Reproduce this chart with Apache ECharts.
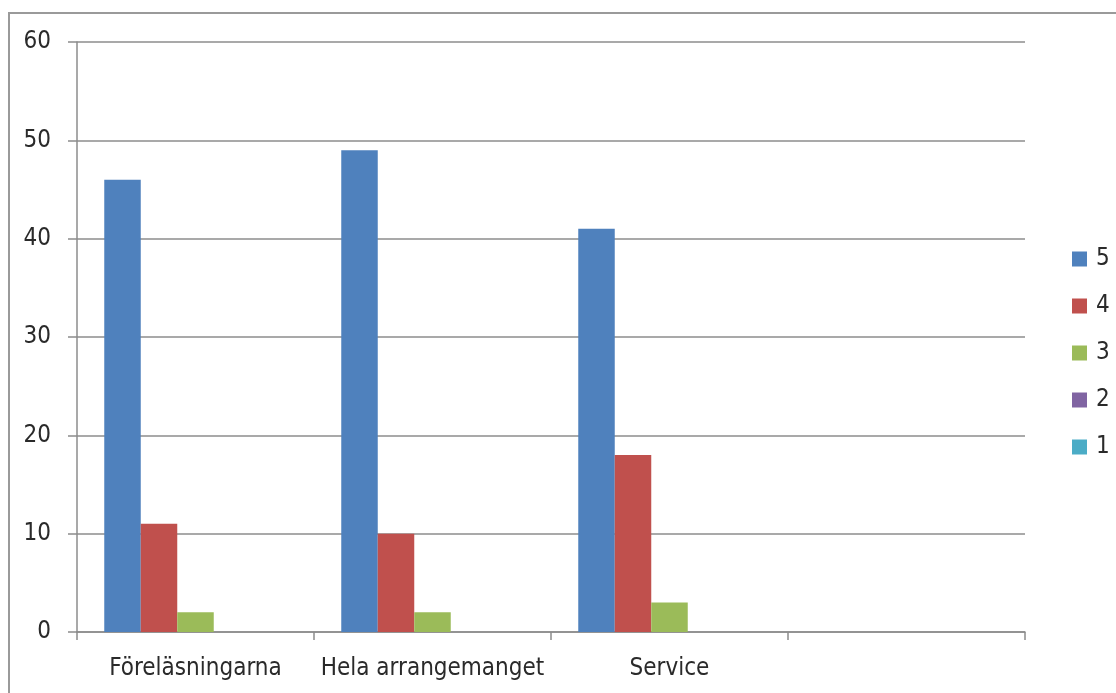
<!DOCTYPE html>
<html>
<head>
<meta charset="utf-8">
<script src="https://cdn.jsdelivr.net/npm/echarts@6/dist/echarts.min.js"></script>
<style>
  html, body { margin: 0; padding: 0; background: #fff; }
  #chart { width: 1116px; height: 693px; }
</style>
</head>
<body>
<div id="chart"></div>
<script>
const categories = ['Föreläsningarna', 'Hela arrangemanget', 'Service', '']
const seriesNames = ['5', '4', '3', '2', '1']
const values5 = [46, 49, 41, null]
const values4 = [11, 10, 18, null]
const values3 = [2, 2, 3, null]
const values2 = [0, 0, 0, null]
const values1 = [0, 0, 0, null]
const yTicks = [0, 10, 20, 30, 40, 50, 60]

const colors = ['#4f81bd', '#c0504d', '#9bbb59', '#8064a2', '#4bacc6']
const allValues = [values5, values4, values3, values2, values1]
const font = '"Liberation Sans Narrow", "DejaVu Sans Condensed", sans-serif'

const chart = echarts.init(document.getElementById('chart'))
chart.setOption({
  animation: false,
  color: colors,
  graphic: [{
    type: 'rect',
    shape: { x: 9, y: 13, width: 1300, height: 900 },
    style: { fill: 'none', stroke: '#9a9a9a', lineWidth: 2 },
    silent: true
  }],
  grid: { left: 77, right: 91, top: 42, bottom: 61 },
  legend: {
    orient: 'vertical',
    left: 1067,
    top: 242,
    itemWidth: 15,
    itemHeight: 15,
    itemGap: 23,
    icon: 'rect',
    textStyle: { fontFamily: font, fontSize: 24, color: '#2a2a2a', padding: [0, 0, 0, 4] },
    data: seriesNames
  },
  xAxis: {
    type: 'category',
    data: categories,
    axisLine: { lineStyle: { color: '#8c8c8c', width: 1.5 } },
    axisTick: { show: true, length: 8, lineStyle: { color: '#8c8c8c', width: 1.5 } },
    axisLabel: { fontFamily: font, fontSize: 24, color: '#2a2a2a', margin: 25, interval: 0 }
  },
  yAxis: {
    type: 'value',
    min: yTicks[0],
    max: yTicks[yTicks.length - 1],
    interval: 10,
    axisLine: { show: true, lineStyle: { color: '#8c8c8c', width: 1.5 } },
    axisTick: { show: true, length: 9, lineStyle: { color: '#8c8c8c', width: 1.5 } },
    axisLabel: { fontFamily: font, fontSize: 24, color: '#2a2a2a', margin: 26 },
    splitLine: { lineStyle: { color: '#8c8c8c', width: 1.5 } }
  },
  series: seriesNames.map((name, i) => ({
    name: name,
    type: 'bar',
    data: allValues[i],
    barGap: '0%',
    barCategoryGap: '23%'
  }))
})
</script>
</body>
</html>
